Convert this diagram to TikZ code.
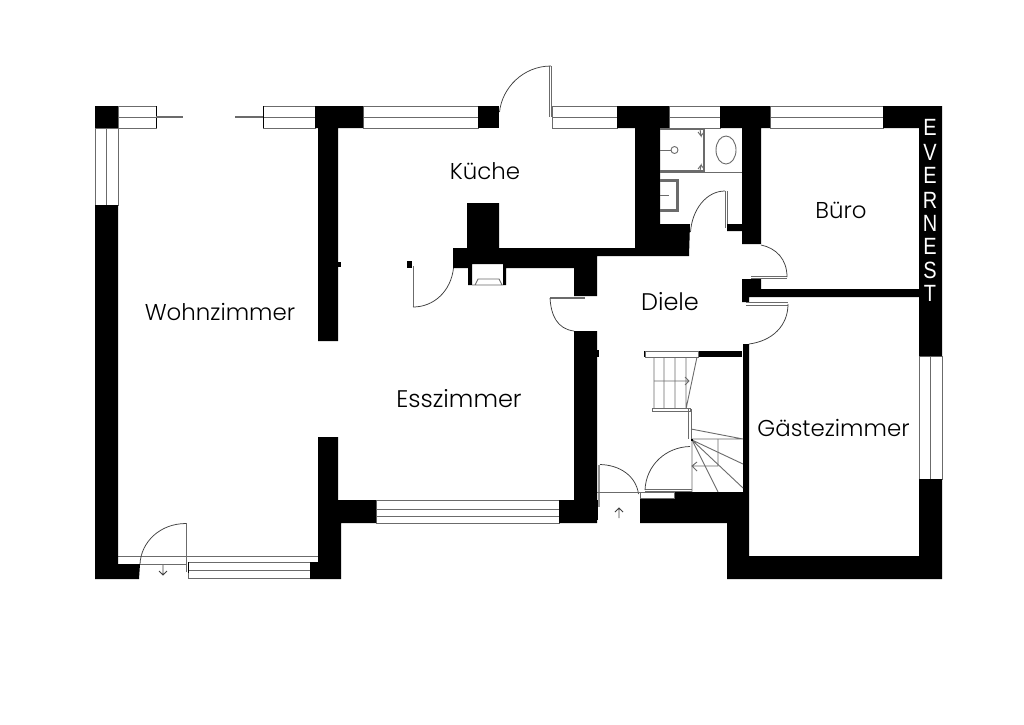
\documentclass[tikz,border=0pt]{standalone}
\usepackage{fontspec}
\setmainfont{Poppins Light}
\newfontfamily\brandfont{Liberation Sans}
\definecolor{ln}{gray}{0.42}
\tikzset{
  wall/.style={fill=black,draw=none},
  thinl/.style={draw=ln,line width=0.9pt},
  arcl/.style={draw=black!75,line width=0.75pt},
  glass/.style={draw=ln,line width=1pt,fill=white},
  heavy/.style={draw=ln,line width=1.8pt},
  room/.style={font=\fontsize{22.9}{26}\selectfont,text=black,inner sep=0pt},
  roomb/.style={font=\fontsize{24}{27}\selectfont,text=black,inner sep=0pt},
  brand/.style={font=\brandfont\fontsize{23.5}{26}\selectfont,text=white,inner sep=0pt,xscale=0.85}
}
\begin{document}
\begin{tikzpicture}[x=1pt,y=-1pt]
\useasboundingbox (0,0) rectangle (1024,724);
\fill[white] (0,0) rectangle (1024,724);
% windows
\draw[glass] (118,106) rectangle (156,128);
\draw[thinl] (118,117) -- (156,117);
\draw[thick,black] (156,106) -- (156,128);
\draw[heavy] (156,117) -- (183,117);
\draw[heavy] (235,117) -- (263,117);
\draw[glass] (263,106) rectangle (315,128);
\draw[thinl] (263,117) -- (315,117);
\draw[thick,black] (263,106) -- (263,128);
\draw[glass] (95,128) rectangle (118,205);
\draw[thinl] (106,128) -- (106,205);
\draw[glass] (363,106) rectangle (478,128);
\draw[thinl] (363,117) -- (478,117);
\draw[glass] (552,106) rectangle (617,128);
\draw[thinl] (552,117) -- (617,117);
\draw[glass] (669,106) rectangle (720,128);
\draw[thinl] (669,117) -- (720,117);
\draw[glass] (770,106) rectangle (883,128);
\draw[thinl] (770,117) -- (883,117);
\draw[glass] (919,356) rectangle (942,479);
\draw[thinl] (930,356) -- (930,479);
\draw[glass] (376,500) rectangle (559,523);
\draw[thinl] (376,509) -- (559,509) (376,516) -- (559,516);
\draw[glass] (188,562) rectangle (310,578);
\draw[thinl] (188,570) -- (310,570);
% front (living room) thresholds
\draw[thinl] (118,556) -- (318,556);
\draw[thinl] (118,564) -- (187,564);
\draw[thick,black] (188,562) -- (188,573);
% walls
\fill[wall] (95,106) rectangle (118,128);
\fill[wall] (95,205) -- (118,205) -- (118,564) -- (140,564) -- (139,579) -- (95,579) -- cycle;
\fill[wall] (315,106) -- (363,106) -- (363,128) -- (338,128) -- (338,341) -- (318,341) -- (318,128) -- (315,128) -- cycle;
\fill[wall] (338,262) rectangle (341,267);
\fill[wall] (318,437) -- (338,437) -- (338,500) -- (376,500) -- (376,523) -- (341,523) -- (341,579) -- (310,579) -- (310,562) -- (318,562) -- cycle;
\fill[wall] (478,106) rectangle (499,128);
\fill[wall] (617,106) -- (669,106) -- (669,128) -- (660,128) -- (660,224) -- (690,224) -- (689,256) -- (597,256) -- (597,296) -- (574,296) -- (574,268) -- (506,268) -- (506,285) -- (503,285) -- (503,264) -- (472,264) -- (472,285) -- (468,285) -- (468,268) -- (453,268) -- (453,248) -- (467,248) -- (467,203) -- (499,203) -- (499,248) -- (635,248) -- (635,128) -- (617,128) -- cycle;
\fill[wall] (720,106) -- (770,106) -- (770,128) -- (761,128) -- (761,244) -- (742,244) -- (742,231) -- (727,231) -- (727,224) -- (742,224) -- (742,128) -- (720,128) -- cycle;
\fill[wall] (883,106) -- (942,106) -- (942,356) -- (919,356) -- (919,128) -- (883,128) -- cycle;
\fill[wall] (742,279) -- (761,279) -- (761,289) -- (919,289) -- (919,297) -- (749,297) -- (749,302) -- (742,302) -- cycle;
\fill[wall] (919,479) -- (942,479) -- (942,579) -- (727,579) -- (727,523) -- (640,523) -- (640,499) -- (674,499) -- (674,492) -- (743,492) -- (743,344) -- (749,344) -- (749,556) -- (919,556) -- cycle;
\fill[wall] (698,351) rectangle (742,357);
\fill[wall] (574,331) -- (597,331) -- (597,523) -- (559,523) -- (559,500) -- (574,500) -- cycle;
\fill[wall] (597,350) rectangle (599,357);
\fill[wall] (597,500) rectangle (598,520);
\fill[wall] (407,261) rectangle (412,268);
% fireplace
\draw[thinl] (472,285) -- (503,285) (475,285) -- (478,279) -- (499,279) -- (502,285);
% doors
\draw[heavy] (186.5,523) -- (186.5,572);
\draw[arcl] (186,523.5) .. controls (160,523.5) and (141,542) .. (140,564);
\draw[thinl] (551,66) -- (551,117);
\draw[thinl] (549.5,66) -- (549.5,117);
\draw[arcl] (551,66) .. controls (523,66) and (502,88) .. (499.5,112);
\draw[thinl] (725,191) -- (725,228) (727,191) -- (727,224);
\draw[arcl] (725,191) .. controls (706,191) and (692,210) .. (690.5,232);
\draw[thinl] (751,276) -- (787,276) (751,278.5) -- (787,278.5);
\draw[arcl] (787,277) .. controls (787,259) and (776,248) .. (761,245);
\draw[thinl] (746,302.5) -- (788,302.5) (746,305) -- (788,305);
\draw[arcl] (788,304) .. controls (788,326) and (772,341) .. (749,344);
\draw[heavy] (413.5,266) -- (413.5,307);
\draw[arcl] (413,307) .. controls (434,307) and (451,291) .. (453.5,268);
\draw[thinl] (550,297) -- (585,297) (550,298.5) -- (585,298.5);
\draw[arcl] (550,298) .. controls (551,315) and (557,329) .. (574,331);
\draw[thinl] (645,489) -- (692,489) (645,491) -- (692,491);
\draw[arcl] (645,490) .. controls (646,465) and (666,447) .. (690,446.5);
\draw[heavy,draw=ln!70] (599,465) -- (599,507);
\draw[arcl] (600,464.5) .. controls (620,465) and (636,476) .. (638.5,494);
\draw[thinl] (597,492) -- (640,492);
\draw[draw=ln,line width=0.6pt,fill=white] (640,492.5) rectangle (674,498.5);
\draw[arcl] (619,518) -- (619,508) (615,512) -- (619,508) -- (623,512);
\draw[arcl] (163,565) -- (163,575) (159,571) -- (163,575) -- (167,571);
% stairs
\draw[draw=ln,line width=0.8pt,fill=white] (645,351) rectangle (698,357);
\fill[wall] (643.5,351) rectangle (645,357);
\draw[thinl] (654,357) -- (654,409) (664,357) -- (664,409) (675,357) -- (675,409) (686,357) -- (686,409) (697,357) -- (686,409);
\draw[thinl] (654,381) -- (689,381) (685,377) -- (689,381) -- (685,385);
\draw[draw=ln,line width=0.8pt,fill=white] (652,408.5) rectangle (690,411);
\draw[thinl] (688.5,409) -- (688.5,439) (691.5,409) -- (691.5,439);
\draw[thinl] (692,439) -- (692,492) (692,439) -- (743,439) (691,429) -- (743,439);
\draw[thinl] (692,440) -- (743,464) (692,440) -- (743,488) (692,440) -- (718,492);
\draw[thinl] (718,439) -- (718,466) -- (692,466) (697,462) -- (692,466) -- (697,471);
\fill[wall] (691,439) rectangle (693,441);
% bathroom
\draw[heavy,line width=1.3pt] (660,129) -- (704,129) (660,171) -- (704,171);
\draw[heavy,line width=2pt] (704,129) -- (704,172);
\draw[thinl] (660,172.5) -- (742,172.5);
\draw[thinl] (660,150) -- (671,150);
\draw[thinl] (674.5,150) circle (3.5);
\draw[thinl] (700,129) -- (701,136) -- (698,132) (701,136) -- (704,132);
\draw[thinl] (700,171) -- (701,165) -- (698,169) (701,165) -- (704,169);
\draw[thinl] (726,150) ellipse (10 and 14);
\draw[heavy,line width=2.2pt] (660,180.5) -- (677.5,180.5) -- (677.5,210.5) -- (660,210.5);
\draw[thinl] (660,195) -- (669,195);
% labels
\node[room] (kueche) at (485,171) {Küche};
\node[room] (buero) at (841,210) {Büro};
\node[roomb] (diele) at (670,302) {Diele};
\node[room] (wohn) at (220,312) {Wohnzimmer};
\node[roomb] (ess) at (459,399) {Esszimmer};
\node[room] (gast) at (833.5,428) {Gästezimmer};
\node[brand] (l1) at (930,127) {E};
\node[brand] (l2) at (930,152) {V};
\node[brand] (l3) at (930,175.5) {E};
\node[brand] (l4) at (930,200) {R};
\node[brand] (l5) at (930,223) {N};
\node[brand] (l6) at (930,246.5) {E};
\node[brand] (l7) at (930,270) {S};
\node[brand] (l8) at (930,293) {T};
\end{tikzpicture}
\end{document}
